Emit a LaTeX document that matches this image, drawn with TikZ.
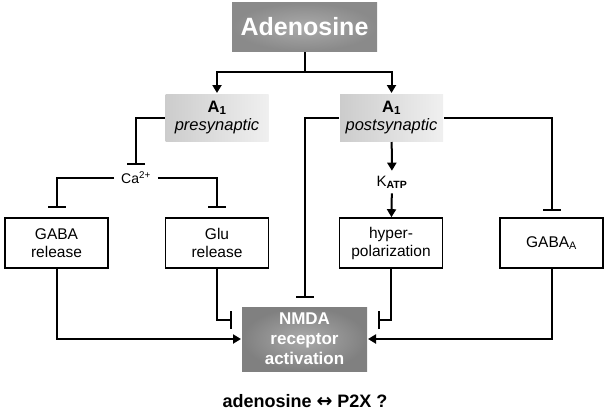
\documentclass[tikz,border=0pt]{standalone}
\usepackage{fontspec}
\setmainfont{Liberation Sans}
\newfontfamily\symfont{DejaVu Sans}
\usetikzlibrary{arrows.meta}
\begin{document}
\begin{tikzpicture}[x=1pt, y=-1pt, line width=2pt,
    box/.style={draw, fill=white, line width=1.6pt, minimum width=103pt, minimum height=50pt, align=center, font=\fontsize{15.5}{18}\selectfont},
    rec/.style={minimum width=103pt, minimum height=47pt, align=center, left color=black!20, right color=black!6, font=\fontsize{16.5}{18.5}\selectfont},
    dark/.style={align=center, text=white, font=\bfseries, inner color=black!33, outer color=black!46},
    act/.style={-{Triangle[length=8pt,width=9pt]}},
    inh/.style={-{Bar[width=18pt,line width=2pt]}}]
\useasboundingbox (0,0) rectangle (609,412);
\node[dark, minimum width=145pt, minimum height=48pt, font=\bfseries\fontsize{25}{28}\selectfont] (aden) at (304.5,27) {Adenosine};
\node[rec] (apre) at (217,117.5) {\textbf{A\textsubscript{1}}\\\textit{presynaptic}};
\node[rec] (apost) at (391.5,117.5) {\textbf{A\textsubscript{1}}\\\textit{postsynaptic}};
\node[font=\fontsize{14}{16}\selectfont, inner sep=6pt] (ca) at (136,178) {Ca\textsuperscript{2+}};
\node[font=\fontsize{15}{16}\selectfont, inner sep=4pt] (katp) at (392,182) {K\textsubscript{\textbf{ATP}}};
\node[box] (gabarel) at (56.5,243) {GABA\\release};
\node[box] (glurel) at (217,243) {Glu\\release};
\node[box] (hyper) at (391,243) {hyper-\\polarization};
\node[box] (gabaa) at (551.5,243) {GABA\textsubscript{A}};
\node[dark, minimum width=125pt, minimum height=64pt, font=\bfseries\fontsize{17}{20}\selectfont, outer color=black!50] (nmda) at (304.5,339) {NMDA\\receptor\\activation};
\node[font=\bfseries\fontsize{18}{20}\selectfont] (p2x) at (305,401) {adenosine {\symfont\fontsize{19}{20}\selectfont ↔} P2X ?};

\coordinate (split) at (304.5,72);
\coordinate (cabar) at (136,165);
\coordinate (glubar) at (232,320);
\coordinate (hypbar) at (378,320);
\draw (aden) -- (split);
\draw[act] (split) -| (apre);
\draw[act] (split) -| (apost);
\draw[inh] (apre.west) -| (cabar);
\draw[inh, shorten >=9pt] (ca.west) -| (gabarel.north);
\draw[inh, shorten >=9pt] (ca.east) -| (glurel.north);
\draw[inh, shorten >=8pt] (apost.west) -| (nmda.north);
\draw[inh, shorten >=6pt] (apost.east) -| (gabaa.north);
\draw[act] (apost) -- (katp);
\draw[act] (katp) -- (hyper);
\draw[act] (gabarel.south) |- (nmda.west);
\draw[act] (gabaa.south) |- (nmda.east);
\draw[inh] (glurel.south) |- (glubar);
\draw[inh] (hyper.south) |- (hypbar);
\end{tikzpicture}
\end{document}
